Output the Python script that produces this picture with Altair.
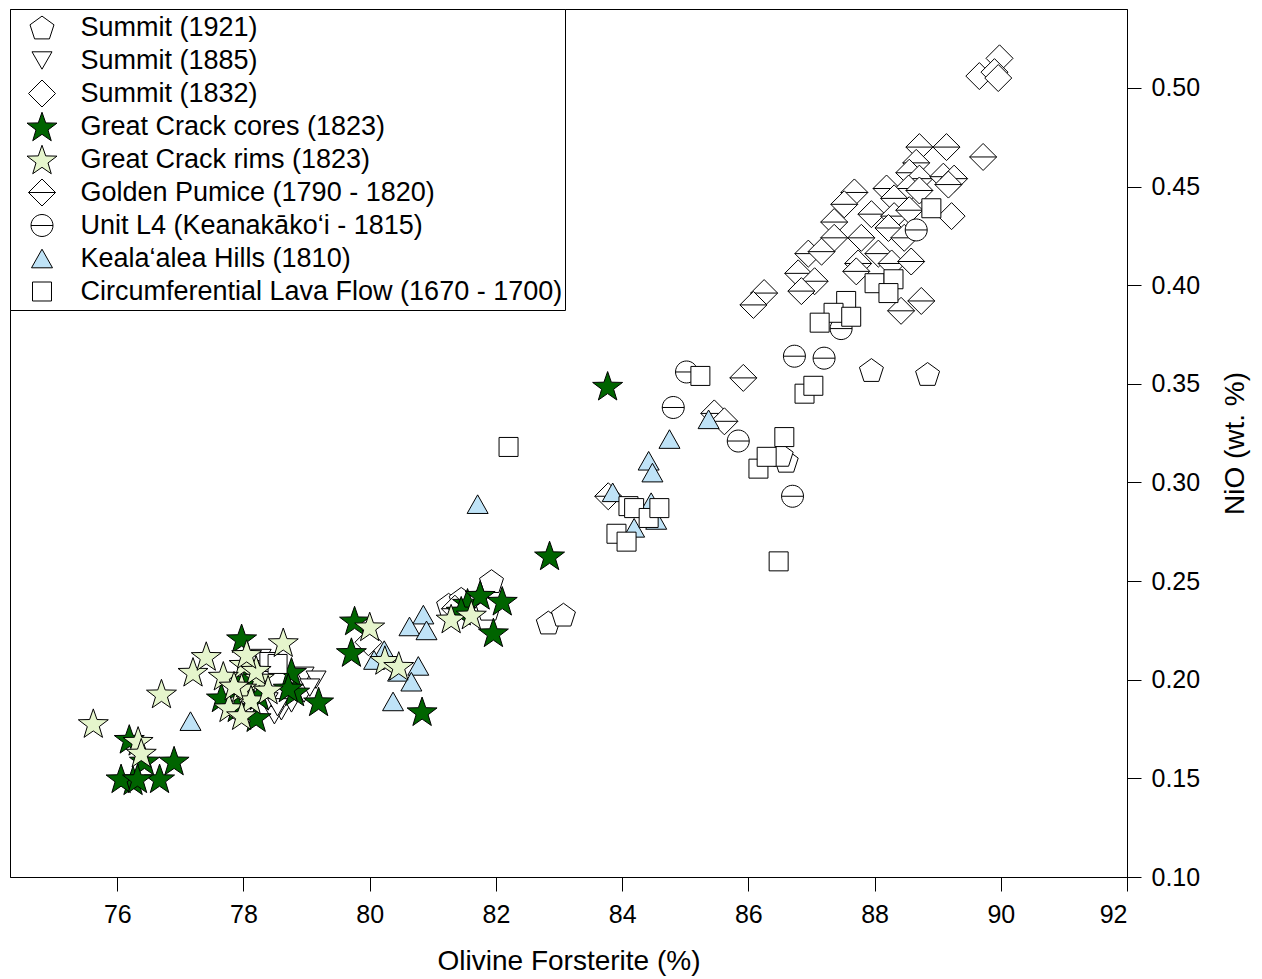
import altair as alt
import pandas as pd

# ---------------- data ----------------
legend_order = [
    "Summit (1921)",
    "Summit (1885)",
    "Summit (1832)",
    "Great Crack cores (1823)",
    "Great Crack rims (1823)",
    "Golden Pumice (1790 - 1820)",
    "Unit L4 (Keanak\u0101ko\u2018i - 1815)",
    "Keala\u2018alea Hills (1810)",
    "Circumferential Lava Flow (1670 - 1700)",
]

s1921_x = [87.95, 88.84, 82.83, 83.07, 81.93, 81.25, 81.45, 81.72, 81.88, 86.60, 86.52]
s1921_y = [0.357, 0.355, 0.229, 0.233, 0.250, 0.238, 0.241, 0.240, 0.236, 0.311, 0.314]

s1885_x = [78.96, 79.15, 78.60, 78.76, 78.49, 78.39, 78.96, 78.28, 78.54, 79.05]
s1885_y = [0.202, 0.200, 0.184, 0.188, 0.182, 0.189, 0.193, 0.211, 0.186, 0.196]

s1832_x = [89.98, 89.66, 89.90, 89.96, 89.22, 79.98]
s1832_y = [0.515, 0.506, 0.508, 0.505, 0.435, 0.219]

gc_cores_x = [83.77, 82.85, 82.10, 81.96, 81.55, 80.83, 79.76, 79.71, 79.19, 78.81,
              77.97, 76.90, 76.67, 76.25, 76.06, 76.19, 76.43, 77.65, 78.76, 78.71,
              78.04, 78.25, 77.90, 78.20, 76.32, 81.45, 81.75]
gc_cores_y = [0.349, 0.263, 0.240, 0.224, 0.239, 0.184, 0.230, 0.214, 0.189, 0.194,
              0.221, 0.159, 0.150, 0.149, 0.150, 0.170, 0.159, 0.191, 0.204, 0.196,
              0.200, 0.192, 0.186, 0.181, 0.150, 0.235, 0.243]

gc_rims_x = [75.62, 76.70, 77.20, 77.41, 78.63, 76.33, 76.38, 80.00, 80.24, 80.46,
             81.29, 81.61, 78.01, 77.68, 78.25, 77.97, 78.12, 77.77, 77.97, 78.39,
             78.20, 77.85, 78.05]
gc_rims_y = [0.178, 0.193, 0.204, 0.212, 0.219, 0.169, 0.163, 0.227, 0.210, 0.207,
             0.231, 0.233, 0.208, 0.202, 0.201, 0.196, 0.190, 0.186, 0.182, 0.195,
             0.205, 0.197, 0.213]

gp_x = [88.71, 89.14, 89.72, 88.66, 88.55, 88.71, 89.09, 89.26, 89.17, 88.19,
        88.54, 88.31, 88.71, 87.68, 87.52, 87.95, 88.31, 88.55, 87.36, 88.22,
        87.36, 87.79, 88.47, 86.95, 87.16, 87.74, 88.06, 88.27, 88.58, 86.79,
        87.05, 87.71, 86.84, 86.25, 86.08, 88.42, 88.74, 85.92, 83.78, 85.46,
        85.62, 81.35]
gp_y = [0.470, 0.470, 0.465, 0.462, 0.457, 0.454, 0.455, 0.454, 0.451, 0.449,
        0.449, 0.444, 0.448, 0.447, 0.441, 0.436, 0.435, 0.438, 0.432, 0.429,
        0.424, 0.424, 0.424, 0.416, 0.417, 0.411, 0.416, 0.411, 0.412, 0.406,
        0.402, 0.407, 0.397, 0.396, 0.390, 0.387, 0.392, 0.353, 0.293, 0.335,
        0.331, 0.236]

ul4_x = [85.02, 84.81, 85.84, 86.73, 87.20, 86.70, 87.47, 88.66]
ul4_y = [0.356, 0.338, 0.321, 0.364, 0.363, 0.293, 0.378, 0.428]

kh_x = [81.71, 84.75, 85.37, 84.42, 84.48, 83.85, 84.46, 84.19, 84.54, 77.16,
        80.85, 80.63, 80.90, 80.23, 80.07, 80.45, 80.77, 80.66, 80.37]
kh_y = [0.289, 0.322, 0.332, 0.311, 0.305, 0.295, 0.290, 0.277, 0.281, 0.179,
        0.233, 0.227, 0.225, 0.215, 0.210, 0.204, 0.207, 0.199, 0.189]

cl_x = [82.20, 85.24, 86.48, 86.16, 86.29, 86.57, 86.89, 87.03, 83.91, 84.07,
        84.10, 84.19, 84.42, 84.59, 88.90, 88.00, 88.30, 88.22, 87.55, 87.35,
        87.13, 87.63, 78.41, 78.54]
cl_y = [0.318, 0.354, 0.260, 0.307, 0.313, 0.323, 0.345, 0.349, 0.274, 0.270,
        0.288, 0.287, 0.282, 0.287, 0.439, 0.401, 0.403, 0.396, 0.392, 0.386,
        0.381, 0.384, 0.209, 0.208]

x_ticks = [76, 78, 80, 82, 84, 86, 88, 90, 92]
y_ticks = [0.10, 0.15, 0.20, 0.25, 0.30, 0.35, 0.40, 0.45, 0.50]

# drawing order (later = on top)
draw_order = [
    (legend_order[0], s1921_x, s1921_y),
    (legend_order[1], s1885_x, s1885_y),
    (legend_order[2], s1832_x, s1832_y),
    (legend_order[5], gp_x, gp_y),
    (legend_order[6], ul4_x, ul4_y),
    (legend_order[3], gc_cores_x, gc_cores_y),
    (legend_order[7], kh_x, kh_y),
    (legend_order[8], cl_x, cl_y),
    (legend_order[4], gc_rims_x, gc_rims_y),
]
rows = []
for name, xs, ys in draw_order:
    for xv, yv in zip(xs, ys):
        rows.append({"fo": xv, "nio": yv, "series": name})
df = pd.DataFrame(rows)

# ---------------- symbols ----------------
pentagon = "M0,-0.76L0.799,-0.18L0.494,0.76L-0.494,0.76L-0.799,-0.18Z"
tri_down = "M-0.667,-0.58L0.667,-0.58L0,0.58Z"
diamond = "M0,-0.9L0.9,0L0,0.9L-0.9,0Z"
star = ("M0,-0.95L0.247,-0.24L0.999,-0.224L0.399,0.23L0.617,0.949L0,0.52"
        "L-0.617,0.949L-0.399,0.23L-0.999,-0.224L-0.247,-0.24Z")
diamond_line = "M0,-0.9L0.9,0L0,0.9L-0.9,0ZM-0.9,0L0.9,0"
circle_line = ("M-0.733,0A0.733,0.733,0,1,1,0.733,0A0.733,0.733,0,1,1,-0.733,0Z"
               "M-0.733,0L0.733,0")
tri_up = "M0,-0.62L0.7,0.62L-0.7,0.62Z"
square = "M-0.633,-0.633L0.633,-0.633L0.633,0.633L-0.633,0.633Z"

shape_range = [pentagon, tri_down, diamond, star, star, diamond_line,
               circle_line, tri_up, square]
fill_range = ["white", "white", "white", "#006400", "#e5f5cc", "white",
              "white", "#bfe3f7", "white"]
stroke_range = ["black"] * 9

FONT = "Liberation Sans"

chart = alt.Chart(df).mark_point(
    filled=True, size=900, opacity=1, strokeWidth=1
).encode(
    x=alt.X("fo:Q",
            scale=alt.Scale(domain=[74.3, 92], nice=False, zero=False),
            axis=alt.Axis(values=x_ticks, format="d",
                          title="Olivine Forsterite (%)",
                          labelPadding=11, titlePadding=20)),
    y=alt.Y("nio:Q",
            scale=alt.Scale(domain=[0.10, 0.54], nice=False, zero=False),
            axis=alt.Axis(orient="right", values=y_ticks, format=".2f",
                          title="NiO (wt. %)", titleAngle=270,
                          titleBaseline="top", labelPadding=10,
                          titlePadding=22)),
    shape=alt.Shape("series:N",
                    scale=alt.Scale(domain=legend_order, range=shape_range),
                    legend=alt.Legend(title=None)),
    fill=alt.Fill("series:N",
                  scale=alt.Scale(domain=legend_order, range=fill_range),
                  legend=alt.Legend(title=None)),
    stroke=alt.Stroke("series:N",
                      scale=alt.Scale(domain=legend_order, range=stroke_range),
                      legend=alt.Legend(title=None)),
).properties(
    width=1117, height=868,
    padding={"left": 9, "top": 8, "right": 5, "bottom": 5},
).configure_view(
    stroke="black", strokeWidth=1
).configure_axis(
    grid=False,
    labelFont=FONT, labelFontSize=25, labelColor="black",
    titleFont=FONT, titleFontSize=28, titleFontWeight="normal", titleColor="black",
    tickColor="black", tickSize=14, tickWidth=1,
    domainColor="black", domainWidth=1,
).configure_legend(
    orient="top-left", offset=0, padding=2,
    fillColor="white", strokeColor="black",
    clipHeight=33, rowPadding=0,
    symbolSize=900, symbolOffset=14.5, labelOffset=23,
    symbolStrokeColor="black", symbolStrokeWidth=1, symbolOpacity=1,
    labelFont=FONT, labelFontSize=27, labelColor="black", labelLimit=0,
)

chart.save("out.html", embed_options={"renderer": "svg", "actions": False})
